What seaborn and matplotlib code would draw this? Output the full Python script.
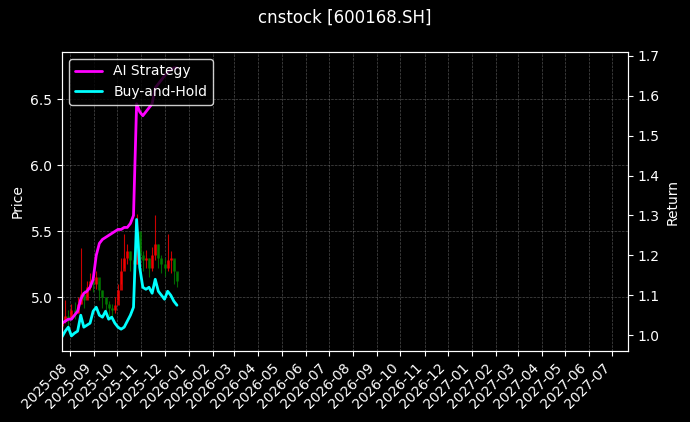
import pandas as pd
import numpy as np
import matplotlib
matplotlib.use("Agg")
import matplotlib.pyplot as plt
import matplotlib.dates as mdates
import seaborn as sns

# ------------------ data ------------------
start_date = "2025-07-22"
closes = [4.82, 4.86, 4.84, 4.90, 4.88, 4.95, 5.02, 4.98, 5.08, 5.12, 5.10, 5.15, 5.05, 5.00, 4.95, 4.92, 4.90, 4.94, 5.05,
          5.20, 5.30, 5.35, 5.28, 5.25, 5.50, 5.32, 5.28, 5.30, 5.22, 5.32, 5.40, 5.30, 5.25, 5.22, 5.28, 5.30, 5.20, 5.12]
opens = [4.78] + closes[:-1]
highs = [4.88, 4.98, 4.90, 4.95, 4.96, 5.00, 5.37, 5.05, 5.12, 5.18, 5.16, 5.20, 5.12, 5.05, 5.00, 4.97, 4.95, 5.00, 5.10,
         5.30, 5.48, 5.40, 5.35, 5.32, 5.63, 5.45, 5.35, 5.36, 5.30, 5.38, 5.62, 5.40, 5.32, 5.30, 5.48, 5.35, 5.28, 5.18]
lows = [4.75, 4.80, 4.78, 4.84, 4.83, 4.88, 4.95, 4.92, 5.00, 5.05, 5.04, 5.06, 4.98, 4.92, 4.90, 4.86, 4.85, 4.88, 4.98,
        5.10, 5.22, 5.25, 5.20, 5.18, 5.25, 5.22, 5.20, 5.22, 5.15, 5.20, 5.28, 5.22, 5.18, 5.16, 5.20, 5.18, 5.10, 5.08]
ai_strategy = [1.03, 1.035, 1.04, 1.04, 1.05, 1.06, 1.09, 1.105, 1.11, 1.12, 1.14, 1.20, 1.23, 1.24, 1.245, 1.25, 1.255,
               1.26, 1.265, 1.265, 1.27, 1.27, 1.28, 1.30, 1.58, 1.56, 1.55, 1.56, 1.57, 1.58, 1.62, 1.63, 1.64, 1.65,
               1.66, 1.665, 1.67, 1.67]
buy_hold = [0.996, 1.01, 1.02, 0.998, 1.005, 1.01, 1.05, 1.02, 1.025, 1.03, 1.06, 1.07, 1.05, 1.045, 1.06, 1.04, 1.045,
            1.03, 1.02, 1.015, 1.02, 1.035, 1.05, 1.07, 1.29, 1.17, 1.12, 1.115, 1.12, 1.105, 1.14, 1.11, 1.10, 1.09,
            1.11, 1.10, 1.085, 1.075]

dates = pd.date_range(start_date, periods=len(closes), freq="4D")
df = pd.DataFrame({"date": dates, "open": opens, "high": highs, "low": lows, "close": closes,
                   "AI Strategy": ai_strategy, "Buy-and-Hold": buy_hold})

# ------------------ style ------------------
sns.set_style("dark", {"axes.facecolor": "black", "figure.facecolor": "black", "axes.edgecolor": "white",
                       "text.color": "white", "axes.labelcolor": "white", "xtick.color": "white",
                       "ytick.color": "white", "xtick.bottom": True, "ytick.left": True})
plt.rcParams['font.family'] = ['DejaVu Sans']

fig, ax = plt.subplots(figsize=(6.9, 4.22), dpi=100)
fig.subplots_adjust(left=0.09, right=0.91, top=0.877, bottom=0.168)

# Kerzen
for _, r in df.iterrows():
    col = "red" if r["close"] >= r["open"] else "green"
    ax.vlines(r["date"], r["low"], r["high"], color=col, lw=0.8, alpha=0.8)
    ax.vlines(r["date"], min(r["open"], r["close"]), max(r["open"], r["close"]), color=col, lw=2, alpha=0.8)

ax.set_ylabel("Price")
ax.set_ylim(4.59, 6.86)
ax.grid(True, color="gray", ls="--", lw=0.5, alpha=0.6)

ax2 = ax.twinx()
sns.lineplot(data=df, x="date", y="AI Strategy", ax=ax2, color="magenta", lw=2, label="AI Strategy")
sns.lineplot(data=df, x="date", y="Buy-and-Hold", ax=ax2, color="cyan", lw=2, label="Buy-and-Hold")
ax2.set_ylabel("Return")
ax2.set_ylim(0.96, 1.71)
ax2.set_yticks(np.arange(1.0, 1.71, 0.1))
ax2.tick_params(axis="y", colors="white", right=True)
ax2.set_xlabel("")

ax.set_xlim(pd.Timestamp("2025-07-22"), pd.Timestamp("2027-07-21"))
ax.xaxis.set_major_locator(mdates.MonthLocator())
ax.xaxis.set_major_formatter(mdates.DateFormatter("%Y-%m"))
plt.setp(ax.get_xticklabels(), rotation=45, ha="right")
ax.set_xlabel("")

leg = ax2.legend(loc="upper left", facecolor="black", edgecolor="white")
for t in leg.get_texts():
    t.set_color("white")

fig.suptitle("cnstock [600168.SH]", color="white")
fig.savefig("out.png", facecolor="black")
